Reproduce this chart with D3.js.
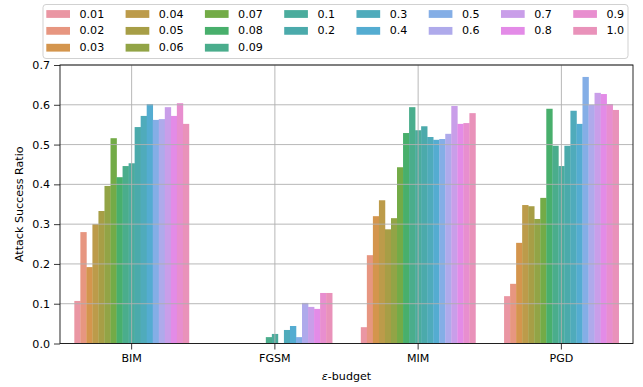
<!DOCTYPE html>
<html>
<head>
<meta charset="UTF-8">
<script src="https://d3js.org/d3.v7.min.js"></script>
<style>
  body { margin: 0; background: #fff; }
  text { font-family: "DejaVu Sans", sans-serif; fill: #000; }
</style>
</head>
<body>
<svg id="chart" width="643" height="387"></svg>
<script>
// attacks on the x axis
const attacks = ["BIM", "FGSM", "MIM", "PGD"];
// epsilon budgets (hue)
const budgets = ["0.01", "0.02", "0.03", "0.04", "0.05", "0.06", "0.07", "0.08", "0.09",
                 "0.1", "0.2", "0.3", "0.4", "0.5", "0.6", "0.7", "0.8", "0.9", "1.0"];
// attack success ratio, one array per attack, in budget order
const bimValues  = [0.107, 0.280, 0.192, 0.300, 0.333, 0.396, 0.516, 0.418, 0.446, 0.453,
                    0.544, 0.572, 0.602, 0.562, 0.564, 0.594, 0.572, 0.604, 0.552];
const fgsmValues = [0, 0, 0, 0, 0, 0, 0, 0, 0.016, 0.024,
                    0, 0.034, 0.044, 0.016, 0.102, 0.092, 0.087, 0.127, 0.127];
const mimValues  = [0.041, 0.222, 0.320, 0.360, 0.287, 0.315, 0.443, 0.529, 0.594, 0.536,
                    0.546, 0.519, 0.512, 0.514, 0.527, 0.597, 0.552, 0.554, 0.579];
const pgdValues  = [0.119, 0.150, 0.253, 0.348, 0.345, 0.313, 0.366, 0.590, 0.497, 0.446,
                    0.497, 0.585, 0.552, 0.670, 0.600, 0.630, 0.627, 0.602, 0.587];
const yTicks = [0.0, 0.1, 0.2, 0.3, 0.4, 0.5, 0.6, 0.7];

const valuesByAttack = [bimValues, fgsmValues, mimValues, pgdValues];
const rows = [];
attacks.forEach((a, i) => budgets.forEach((b, j) => rows.push({attack: a, budget: b, value: valuesByAttack[i][j]})));

// husl palette (as seaborn does it), then desaturated for patches
const M = [[3.2406, -1.5372, -0.4986], [-0.9689, 1.8758, 0.0415], [0.0557, -0.2040, 1.0570]];
function maxChroma(L, H) {
  const hr = H * Math.PI / 180, sinH = Math.sin(hr), cosH = Math.cos(hr);
  const sub1 = Math.pow(L + 16, 3) / 1560896;
  const sub2 = sub1 > 0.008856 ? sub1 : L / 903.3;
  let res = Infinity;
  for (const [m1, m2, m3] of M) {
    const tp = (0.99915 * m1 + 1.05122 * m2 + 1.14460 * m3) * sub2;
    const rb = 0.86330 * m3 - 0.17266 * m2;
    const lb = 0.12949 * m3 - 0.38848 * m1;
    const bt = (rb * sinH + lb * cosH) * sub2;
    for (const t of [0, 1]) {
      const C = L * (tp - 1.05122 * t) / (bt + 0.17266 * sinH * t);
      if (C > 0 && C < res) res = C;
    }
  }
  return res;
}
function huslToRgb(H, S, L) {
  const C = maxChroma(L, H) / 100 * S;
  const hr = H * Math.PI / 180;
  const U = Math.cos(hr) * C, V = Math.sin(hr) * C;
  const t = (L + 16) / 116;
  const Y = Math.pow(t, 3) > 0.008856 ? Math.pow(t, 3) : (116 * t - 16) / 903.3;
  const vu = U / (13 * L) + 0.19784, vv = V / (13 * L) + 0.46834;
  const X = -(9 * Y * vu) / ((vu - 4) * vv - vu * vv);
  const Z = (9 * Y - 15 * vv * Y - vv * X) / (3 * vv);
  return M.map(r => {
    const c = r[0] * X + r[1] * Y + r[2] * Z;
    const v = c <= 0.0031308 ? 12.92 * c : 1.055 * Math.pow(c, 1 / 2.4) - 0.055;
    return Math.max(0, Math.min(1, v));
  });
}
const palette = budgets.map((b, i) => {
  const h = ((i / budgets.length + 0.01) % 1) * 359;
  const [r, g, bl] = huslToRgb(h, 0.9 * 99, 0.7 * 99);
  const c = d3.hsl(d3.rgb(r * 255, g * 255, bl * 255));
  c.s *= 0.75;
  return c.formatHex();
});
const color = d3.scaleOrdinal().domain(budgets).range(palette);

const svg = d3.select("#chart");
const pL = 60, pR = 633, pT = 65, pB = 343.5;
const fs = 11.1;

const x = d3.scaleBand().domain(attacks).range([pL, pR]).padding(0);
const xIn = d3.scaleBand().domain(budgets).range([x.bandwidth() * 0.1, x.bandwidth() * 0.9]).padding(0);
const y = d3.scaleLinear().domain([0, 0.7]).range([pB, pT]);

// bars
svg.append("g").selectAll("rect").data(rows).enter().append("rect")
  .attr("x", d => x(d.attack) + xIn(d.budget))
  .attr("y", d => y(d.value))
  .attr("width", xIn.bandwidth() + 0.3)
  .attr("height", d => y(0) - y(d.value))
  .attr("fill", d => color(d.budget));

// grid on top of bars
const grid = svg.append("g").attr("stroke", "#b0b0b0").attr("stroke-width", 0.9);
grid.selectAll(".gy").data(yTicks).enter().append("line")
  .attr("x1", pL).attr("x2", pR).attr("y1", d => y(d)).attr("y2", d => y(d));
grid.selectAll(".gx").data(attacks).enter().append("line")
  .attr("y1", pT).attr("y2", pB)
  .attr("x1", d => x(d) + x.bandwidth() / 2).attr("x2", d => x(d) + x.bandwidth() / 2);

// axes
const yAxis = svg.append("g").attr("transform", `translate(${pL},0)`)
  .call(d3.axisLeft(y).tickValues(yTicks).tickFormat(d3.format(".1f")).tickSize(6).tickPadding(4));
const xAxis = svg.append("g").attr("transform", `translate(0,${pB})`)
  .call(d3.axisBottom(x).tickSize(6).tickPadding(5));
[xAxis, yAxis].forEach(a => {
  a.select(".domain").remove();
  a.selectAll(".tick line").attr("stroke", "#222").attr("stroke-width", 0.9);
  a.selectAll("text").attr("font-size", fs).attr("fill", "#000").attr("font-family", "DejaVu Sans");
});

svg.append("rect").attr("x", pL).attr("y", pT).attr("width", pR - pL).attr("height", pB - pT)
  .attr("fill", "none").attr("stroke", "#111").attr("stroke-width", 0.9);

// labels
svg.append("text").attr("transform", `translate(20,${(pT + pB) / 2}) rotate(-90)`)
  .attr("text-anchor", "middle").attr("dominant-baseline", "middle").attr("font-size", fs)
  .text("Attack Success Ratio");
const xl = svg.append("text").attr("x", (pL + pR) / 2).attr("y", 379.5)
  .attr("text-anchor", "middle").attr("font-size", fs);
xl.append("tspan").attr("font-style", "italic").text("ε");
xl.append("tspan").text("-budget");

// legend, column-major like matplotlib ncol=8
const legend = svg.append("g");
legend.append("rect").attr("x", 43).attr("y", 4.5).attr("width", 585).attr("height", 54)
  .attr("rx", 3).attr("fill", "#fff").attr("fill-opacity", 0.8)
  .attr("stroke", "#cccccc").attr("stroke-width", 0.9);
const cols = [];
budgets.forEach((b, i) => {
  const c = i < 9 ? Math.floor(i / 3) : 3 + Math.floor((i - 9) / 2);
  const r = i < 9 ? i % 3 : (i - 9) % 2;
  (cols[c] = cols[c] || []).push({b, r});
});
let cx = 46.3;
cols.forEach(col => {
  let maxW = 0;
  col.forEach(({b, r}) => {
    const cy = 14 + r * 16.85;
    legend.append("rect").attr("x", cx).attr("y", cy - 3.9).attr("width", 23.7).attr("height", 7.8)
      .attr("fill", color(b));
    const t = legend.append("text").attr("x", cx + 33.2).attr("y", cy)
      .attr("dominant-baseline", "central").attr("font-size", fs).text(b);
    maxW = Math.max(maxW, t.node().getComputedTextLength());
  });
  cx += 23.7 + 9.5 + maxW + 21.4;
});
</script>
</body>
</html>
